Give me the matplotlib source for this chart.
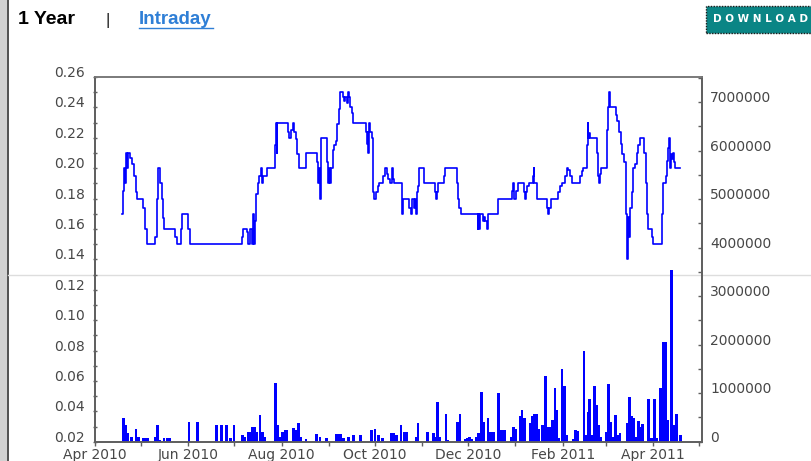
import datetime as dt
import numpy as np
import matplotlib
matplotlib.use('Agg')
import matplotlib.pyplot as plt
import matplotlib.dates as mdates
from matplotlib.lines import Line2D
from matplotlib.patches import Rectangle
from matplotlib.ticker import MultipleLocator

# ── canvas (pixels) ──────────────────────────────────────────────────────────
W, H = 812, 461
BLUE = '#0000ff'
LABEL_C = '#474747'
SPINE_C = '#606060'

# ── data: days counted from START ────────────────────────────────────────────
START = dt.date(2010, 4, 1)
X_SPAN_DAYS = 397

PRICE_DAY = [
    17.9, 18.5, 19.2, 19.8, 20.4, 21.0, 21.6, 22.9, 24.4, 25.7, 26.8, 27.3,
    31.6, 32.7, 33.8, 39.2, 40.4, 41.2, 42.5, 43.6, 44.7, 45.4, 52.3, 53.4,
    56.2, 57.1, 61.0, 62.1, 95.9, 97.0, 99.2, 100.3, 101.4, 102.4, 103.1,
    104.0, 104.6, 105.3, 106.4, 107.3, 108.4, 109.0, 110.1, 112.7, 117.5,
    118.2, 118.8, 119.3, 126.3, 127.1, 128.0, 129.3, 130.2, 131.3, 132.3,
    133.2, 138.0, 145.0, 146.0, 146.5, 146.9, 147.8, 151.9, 152.6, 153.1,
    153.7, 154.3, 155.4, 156.5, 157.6, 158.4, 159.5, 160.2, 161.9, 163.0,
    163.7, 164.5, 165.2, 166.3, 166.9, 167.8, 168.9, 177.0, 177.6, 178.3,
    178.7, 179.4, 180.0, 180.9, 181.6, 182.0, 182.6, 183.5, 184.8, 185.7,
    188.5, 189.6, 190.7, 191.8, 192.9, 194.0, 194.6, 195.7, 200.5, 201.0,
    201.6, 205.3, 206.6, 207.5, 208.4, 209.2, 209.9, 210.5, 211.4, 212.1,
    215.3, 222.3, 223.0, 223.8, 224.5, 228.2, 228.9, 236.9, 237.6, 238.2,
    239.1, 250.2, 250.7, 251.3, 252.0, 253.5, 254.4, 255.0, 256.1, 256.8,
    263.7, 273.0, 273.6, 274.3, 275.1, 276.9, 280.6, 281.3, 281.9, 282.8,
    283.9, 286.3, 286.9, 287.4, 288.9, 295.4, 296.1, 297.0, 298.0, 303.0,
    304.1, 305.2, 307.4, 308.5, 309.6, 310.7, 311.8, 317.2, 318.3, 319.4,
    321.6, 322.2, 322.7, 323.3, 323.8, 328.6, 329.0, 329.6, 330.3, 331.0,
    334.7, 335.5, 336.2, 336.8, 340.5, 341.6, 342.7, 343.8, 344.9, 346.0,
    347.1, 347.5, 348.2, 348.8, 349.3, 349.9, 351.0, 352.1, 353.2, 354.3,
    355.4, 356.5, 359.1, 360.2, 360.8, 361.5, 364.1, 365.2, 370.6, 371.3,
    373.5, 374.3, 375.0, 375.6, 376.1, 376.7, 377.4, 378.3, 378.9, 379.6,
    382.6,
]
PRICE = [
    0.170, 0.185, 0.200, 0.190, 0.210, 0.200, 0.210, 0.207, 0.203, 0.195, 0.184, 0.180,
    0.174, 0.160, 0.150, 0.155, 0.180, 0.200, 0.190, 0.180, 0.167, 0.160, 0.155, 0.150,
    0.160, 0.170, 0.160, 0.150, 0.155, 0.160, 0.158, 0.150, 0.160, 0.150, 0.170,
    0.150, 0.165, 0.183, 0.190, 0.195, 0.200, 0.190, 0.195, 0.200, 0.215,
    0.230, 0.210, 0.230, 0.224, 0.220, 0.225, 0.230, 0.224, 0.219, 0.209,
    0.200, 0.210, 0.204, 0.190, 0.200, 0.180, 0.220, 0.204, 0.190, 0.200,
    0.190, 0.200, 0.212, 0.215, 0.218, 0.229, 0.239, 0.250, 0.247, 0.244,
    0.247, 0.243, 0.250, 0.247, 0.240, 0.236, 0.230, 0.224, 0.216, 0.224,
    0.210, 0.230, 0.224, 0.220, 0.204, 0.184, 0.180, 0.184, 0.188, 0.190,
    0.195, 0.200, 0.196, 0.193, 0.190, 0.200, 0.193, 0.190, 0.180, 0.170,
    0.180, 0.174, 0.170, 0.180, 0.174, 0.180, 0.170, 0.184, 0.188, 0.200,
    0.190, 0.184, 0.180, 0.184, 0.190, 0.195, 0.200, 0.190, 0.180, 0.174,
    0.170, 0.160, 0.170, 0.160, 0.170, 0.165, 0.168, 0.165, 0.160, 0.170,
    0.180, 0.185, 0.190, 0.180, 0.185, 0.190, 0.184, 0.180, 0.184, 0.188,
    0.190, 0.195, 0.200, 0.190, 0.180, 0.174, 0.170, 0.174, 0.180, 0.184,
    0.188, 0.190, 0.195, 0.200, 0.199, 0.195, 0.190, 0.195, 0.198, 0.200,
    0.215, 0.230, 0.220, 0.223, 0.220, 0.210, 0.195, 0.190, 0.196, 0.200,
    0.225, 0.240, 0.250, 0.240, 0.235, 0.231, 0.224, 0.216, 0.209, 0.204,
    0.200, 0.170, 0.140, 0.168, 0.155, 0.174, 0.184, 0.200, 0.203, 0.210,
    0.215, 0.220, 0.210, 0.190, 0.170, 0.160, 0.155, 0.150, 0.170, 0.190,
    0.195, 0.205, 0.213, 0.220, 0.200, 0.209, 0.206, 0.210, 0.204, 0.200,
    0.200,
]

VOL_DAY = [
    18.5, 20.0, 21.2, 24.0, 26.8, 28.3, 31.6, 33.0, 34.5, 39.7, 40.8, 42.5,
    45.1, 47.3, 48.7, 61.5, 66.9, 79.6, 82.8, 86.1, 88.7, 90.9, 96.6, 98.1,
    100.3, 101.5, 103.1, 104.4, 105.7, 107.9, 109.7, 111.2, 118.2, 119.5,
    121.0, 122.7, 124.3, 125.6, 129.7, 131.5, 133.0, 134.7, 138.0, 145.0,
    147.1, 151.5, 158.1, 159.3, 160.6, 162.4, 165.7, 169.0, 173.7, 181.0,
    183.1, 185.3, 188.1, 193.6, 195.1, 197.3, 200.1, 202.1, 203.9, 209.9,
    211.3, 217.4, 221.2, 222.6, 224.2, 225.6, 229.6, 230.9, 237.2, 238.8,
    242.2, 243.4, 245.1, 246.6, 249.6, 251.0, 252.9, 254.5, 257.0, 258.3,
    259.5, 260.7, 263.9, 265.3, 266.5, 267.8, 272.5, 273.9, 275.4, 278.2,
    279.3, 280.8, 284.6, 286.1, 287.5, 288.9, 290.4, 292.6, 294.5, 296.0,
    297.6, 299.0, 300.8, 302.0, 303.3, 305.5, 307.1, 308.5, 312.9, 314.2,
    315.7, 319.8, 321.3, 322.4, 323.6, 325.0, 326.5, 328.1, 329.4, 330.8,
    334.6, 336.0, 337.5, 338.9, 340.3, 341.8, 343.3, 348.2, 349.6, 351.1,
    352.4, 353.9, 355.4, 357.0, 358.3, 361.9, 363.9, 365.9, 367.6, 369.7,
    371.6, 373.0, 374.7, 376.9, 378.4, 380.1, 382.9,
]
VOLUME_M = [
    0.48, 0.34, 0.17, 0.10, 0.26, 0.10, 0.07, 0.07, 0.08, 0.10, 0.34, 0.04,
    0.07, 0.08, 0.08, 0.41, 0.41, 0.34, 0.34, 0.34, 0.07, 0.34, 0.14, 0.10,
    0.21, 0.21, 0.31, 0.31, 0.21, 0.55, 0.21, 0.10, 1.22, 0.34,
    0.10, 0.21, 0.24, 0.24, 0.28, 0.24, 0.38, 0.10, 0.05, 0.15,
    0.10, 0.08, 0.15, 0.15, 0.15, 0.08, 0.10, 0.14, 0.14, 0.24,
    0.26, 0.14, 0.08, 0.17, 0.17, 0.14, 0.34, 0.21, 0.21, 0.10,
    0.38, 0.21, 0.17, 0.10, 0.82, 0.10, 0.58, 0.03, 0.41, 0.58,
    0.05, 0.08, 0.10, 0.05, 0.10, 0.17, 1.02, 0.41, 0.48, 0.21,
    0.21, 0.21, 1.00, 0.24, 0.24, 0.24, 0.10, 0.31, 0.27, 0.52,
    0.65, 0.48, 0.38, 0.54, 0.57, 0.58, 0.27, 0.34, 1.36, 0.31,
    0.31, 0.45, 1.11, 0.65, 0.07, 1.49, 1.15, 0.14, 0.05, 0.24,
    0.22, 1.86, 0.14, 0.62, 0.89, 0.14, 1.15, 0.76, 0.34, 0.10,
    0.21, 1.19, 0.41, 0.10, 0.55, 0.14, 0.17, 0.38, 0.93, 0.52,
    0.48, 0.10, 0.43, 0.31, 0.36, 0.89, 0.07, 0.89, 0.07, 1.10,
    2.06, 2.06, 0.45, 3.54, 0.34, 0.58, 0.14,
]

PRICE_TICKS = [0.02, 0.04, 0.06, 0.08, 0.10, 0.12, 0.14, 0.16, 0.18, 0.20,
               0.22, 0.24, 0.26]
VOL_TICKS = [0, 1000000, 2000000, 3000000, 4000000, 5000000, 6000000, 7000000]
VOL_MAX = 7520000


def fx(px):
    return px / W


def fy(py):
    return 1 - py / H


# ── figure ───────────────────────────────────────────────────────────────────
fig = plt.figure(figsize=(W / 100, H / 100), dpi=100)
fig.patch.set_facecolor('white')

# page chrome: grey strip on the left, thin rule across the chart
fig.add_artist(Rectangle((0, 0), fx(7), 1, transform=fig.transFigure,
                         facecolor='#d2d2d2', edgecolor='none', zorder=-2))
fig.add_artist(Line2D([fx(7.5), fx(7.5)], [0, 1], transform=fig.transFigure,
                      color='#333333', lw=1.2, zorder=-2))
fig.add_artist(Line2D([fx(8), 1], [fy(275), fy(275)], transform=fig.transFigure,
                      color='#dddddd', lw=1.0, zorder=-1))

# header
fig.text(fx(18), fy(20), '1 Year', fontsize=14, fontweight='bold',
         family=['Liberation Sans', 'DejaVu Sans'], ha='left', va='center')
fig.text(fx(108), fy(20), '|', fontsize=12, family=['Liberation Sans'],
         ha='center', va='center', color='#222222')
fig.text(fx(139), fy(20), 'Intraday', fontsize=13.5, fontweight='bold',
         family=['Liberation Sans', 'DejaVu Sans'], ha='left', va='center',
         color='#2f7fd6')
fig.add_artist(Line2D([fx(139), fx(213)], [fy(28.5), fy(28.5)],
                      transform=fig.transFigure, color='#2f7fd6', lw=1.0))
fig.add_artist(Rectangle((fx(706), fy(33)), fx(812 - 706), (33 - 6) / H,
                         transform=fig.transFigure, facecolor='#0a8585',
                         edgecolor='#1a1a1a', lw=1.0, linestyle=(0, (1, 1))))
fig.text(fx(761), fy(19.5), 'D O W N L O A D', fontsize=7.5, fontweight='bold',
         color='white', ha='center', va='center')

# ── chart axes ───────────────────────────────────────────────────────────────
left, right, top, bottom = 95, 702, 77, 441.7
ax = fig.add_axes([fx(left), fy(bottom), fx(right - left), (bottom - top) / H])
ax.patch.set_visible(False)
ax2 = ax.twinx()

x0 = mdates.date2num(START)
px = x0 + np.array(PRICE_DAY)
vx = x0 + np.array(VOL_DAY)

ax2.bar(vx, np.array(VOLUME_M) * 1e6, width=1.8, color=BLUE, linewidth=0)
ax.plot(px, PRICE, drawstyle='steps-post', color=BLUE, lw=1.2)

ax.set_xlim(x0, x0 + X_SPAN_DAYS)
ax.set_ylim(PRICE_TICKS[0], PRICE_TICKS[-1])
ax2.set_ylim(0, VOL_MAX)

ax.set_yticks(PRICE_TICKS, labels=[f'{v:.2f}' for v in PRICE_TICKS],
              va='baseline')
ax.yaxis.set_minor_locator(MultipleLocator(0.01))
ax2.set_yticks(VOL_TICKS, labels=[str(v) for v in VOL_TICKS], va='baseline')
ax2.yaxis.set_minor_locator(MultipleLocator(500000))

ax.xaxis.set_major_locator(mdates.MonthLocator(bymonth=[2, 4, 6, 8, 10, 12]))
ax.xaxis.set_major_formatter(mdates.DateFormatter('%b %Y'))
ax.xaxis.set_minor_locator(mdates.MonthLocator())

ax.tick_params(axis='y', which='both', direction='inout', length=3, width=1,
               color=SPINE_C, labelsize=10, labelcolor=LABEL_C, pad=6)
ax2.tick_params(axis='y', which='both', direction='in', length=3, width=1,
                color=SPINE_C, labelsize=10, labelcolor=LABEL_C, pad=6)
ax.tick_params(axis='x', which='both', direction='out', length=3, width=1,
               color=SPINE_C, labelsize=10, labelcolor=LABEL_C, pad=1.5)

for a in (ax, ax2):
    for side in ('left', 'right', 'bottom'):
        a.spines[side].set_color(SPINE_C)
        a.spines[side].set_linewidth(1.3)
    a.spines['top'].set_color('#7a7a7a')
    a.spines['top'].set_linewidth(1.2)

fig.savefig('out.png', dpi=100)
